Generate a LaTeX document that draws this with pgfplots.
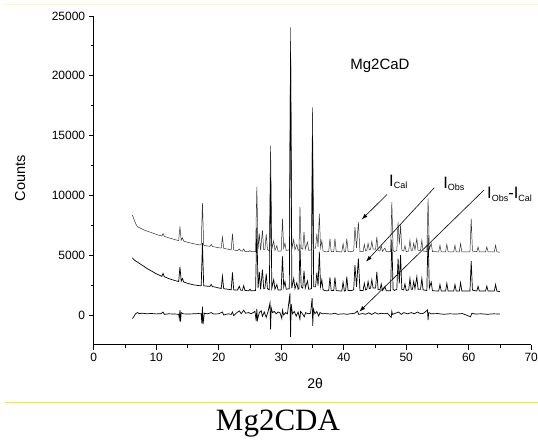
\documentclass[border=0pt]{standalone}
\usepackage{fontspec}
\setmainfont{Liberation Sans}
\newfontfamily\seriffont{Liberation Serif}
\usepackage{pgfplots}
\pgfplotsset{compat=1.18}
\usetikzlibrary{arrows.meta}
\begin{document}
\begin{tikzpicture}[x=1pt,y=1pt]
\path[use as bounding box] (0,0) rectangle (538,439);
\draw[yellow!30, line width=0.8pt] (5,434.7) -- (538,434.7);
\draw[yellow, line width=1pt] (5,36.7) -- (538,36.7);
\node[anchor=base, font=\seriffont\fontsize{31}{34}\selectfont] at (278,8.3) {Mg2CDA};
\begin{axis}[
  at={(93.7pt,94.1pt)}, anchor=south west,
  scale only axis, width=437.5pt, height=328.9pt,
  xmin=0, xmax=70, ymin=-2500, ymax=25000,
  axis lines=left, axis line style={-, line width=1pt},
  clip=false,
  xtick={0,10,...,70}, ytick={0,5000,...,25000},
  minor x tick num=1, minor y tick num=1,
  tick align=outside, major tick length=5pt, minor tick length=3pt,
  tick style={line width=0.8pt, black},
  scaled y ticks=false,
  /pgf/number format/1000 sep={},
  /pgf/number format/assume math mode=true,
  tick label style={font=\fontsize{12}{14}\selectfont},
  xlabel={2θ}, ylabel={Counts},
  xlabel style={font=\fontsize{14}{16}\selectfont, at={(axis description cs:0.506,-0.116)}, anchor=center},
  ylabel style={font=\fontsize{14.5}{16}\selectfont, at={(axis description cs:-0.168,0.507)}, anchor=center},
]
% I_Cal (offset)
\addplot[black!80, line width=0.5pt] coordinates {
(6.2,8350) (6.4,8050) (6.6,7800) (6.8,7550) (7.0,7380) (7.5,7250) (8,7120) (8.5,7020) (9,6930) (9.5,6840) (10,6740) (10.5,6660) (10.9,6600) (11.1,6800) (11.3,6580) (12,6450) (12.5,6380) (13,6300) (13.6,6220) (13.8,7400) (14.0,6250) (14.2,6450) (14.4,6180) (15,6080) (15.5,6020) (16,5960) (16.5,5900) (17.0,5860) (17.2,5850) (17.4,9350) (17.6,5830) (18,5790) (18.6,5740) (18.8,5900) (19.0,5720) (19.5,5680) (20.0,5620) (20.4,5600) (20.6,6520) (20.8,5580) (21.5,5500) (22.0,5450) (22.2,6800) (22.4,5440) (23.0,5380) (23.3,5520) (23.5,5370) (23.8,5340) (24.0,5520) (24.2,5320) (24.8,5300) (25.0,5380) (25.2,5290) (25.6,5290) (25.9,5300) (26.1,10700) (26.3,5500) (26.5,6800) (26.7,5400) (27.0,7080) (27.2,5450) (27.4,5500) (27.6,6750) (27.8,5500) (28.1,5350) (28.3,14170) (28.5,5500) (28.8,6200) (29.0,5400) (29.3,5800) (29.5,5330) (30.0,5350) (30.2,8050) (30.4,5600) (30.6,6000) (30.8,5400) (31.3,5450) (31.5,24050) (31.7,5500) (32.0,6300) (32.2,5450) (32.5,5900) (32.7,5400) (32.85,5450) (33.0,9030) (33.2,5600) (33.45,5500) (33.65,6940) (33.85,5500) (34.2,6100) (34.4,5400) (34.85,5450) (35.0,17360) (35.2,5600) (35.5,5600) (35.7,6800) (35.9,5700) (36.1,8470) (36.3,5600) (36.5,6200) (36.7,5350) (37.2,5280) (37.6,5300) (37.8,6390) (38.0,5300) (38.4,5300) (38.6,6390) (38.8,5300) (39.7,5280) (39.9,5970) (40.1,5280) (40.3,5300) (40.5,6390) (40.7,5300) (41.2,5300) (41.6,5350) (41.8,7360) (42.05,5600) (42.35,7775) (42.6,5300) (43.1,5300) (43.3,5900) (43.5,5350) (43.7,5400) (43.9,6000) (44.1,5450) (44.3,5500) (44.5,6150) (44.7,5500) (45.1,5500) (45.3,6525) (45.5,5400) (45.8,5350) (46.0,5800) (46.2,5320) (46.6,5600) (46.8,5300) (47.5,5300) (47.7,9440) (47.9,5400) (48.1,5300) (48.5,5400) (48.7,7775) (48.9,5900) (49.1,7500) (49.3,5400) (49.6,5350) (49.8,5800) (50.0,5300) (50.4,5350) (50.6,6250) (50.8,5400) (51.0,5400) (51.2,6000) (51.4,5450) (51.7,6390) (51.9,5400) (52.3,5400) (52.5,6250) (52.7,5350) (53.3,5300) (53.5,9720) (53.7,5500) (54.0,6000) (54.2,5300) (55.2,5280) (55.4,5830) (55.6,5280) (56.3,5280) (56.5,5900) (56.7,5280) (57.6,5280) (57.8,5830) (58.0,5280) (58.5,5280) (58.7,5970) (58.9,5280) (60.2,5280) (60.4,8050) (60.6,5350) (61.3,5280) (61.5,5690) (61.7,5280) (62.7,5280) (62.9,5690) (63.1,5280) (64.1,5280) (64.3,5830) (64.5,5280) (65.0,5250)
};
% I_Obs
\addplot[black, line width=0.7pt] coordinates {
(6.2,4780) (6.4,4650) (6.6,4560) (6.8,4480) (7.0,4420) (7.5,4250) (8,4080) (8.5,3900) (9,3750) (9.5,3600) (10,3450) (10.5,3330) (10.9,3230) (11.1,3480) (11.3,3200) (12,3050) (12.5,2960) (13,2880) (13.6,2800) (13.8,4030) (14.0,2820) (14.2,3050) (14.4,2760) (15,2650) (15.5,2580) (16,2520) (16.5,2480) (17.0,2450) (17.2,2440) (17.4,6000) (17.6,2440) (18,2420) (18.6,2390) (18.8,2550) (19.0,2370) (19.5,2330) (20.0,2260) (20.4,2220) (20.6,3250) (20.8,2200) (21.5,2150) (22.0,2110) (22.2,3560) (22.4,2100) (23.0,2080) (23.3,2400) (23.5,2080) (23.8,2060) (24.0,2450) (24.2,2050) (24.8,2030) (25.0,2150) (25.2,2020) (25.6,2020) (25.9,2050) (26.1,7300) (26.3,2250) (26.5,3600) (26.7,2150) (27.0,3800) (27.2,2200) (27.4,2250) (27.6,3450) (27.8,2200) (28.1,2100) (28.3,11500) (28.5,2250) (28.8,2950) (29.0,2150) (29.3,2550) (29.5,2080) (30.0,2100) (30.2,4900) (30.4,2350) (30.6,2800) (30.8,2150) (31.3,2200) (31.5,22000) (31.7,2250) (32.0,3050) (32.2,2200) (32.5,2700) (32.7,2150) (32.85,2200) (33.0,5900) (33.2,2350) (33.45,2250) (33.65,3700) (33.85,2250) (34.2,2850) (34.4,2150) (34.85,2200) (35.0,15000) (35.2,2350) (35.5,2350) (35.7,3550) (35.9,2450) (36.1,5300) (36.3,2350) (36.5,2950) (36.7,2100) (37.2,2020) (37.6,2040) (37.8,3150) (38.0,2040) (38.4,2040) (38.6,3150) (38.8,2040) (39.7,2000) (39.9,2750) (40.1,2000) (40.3,2040) (40.5,3200) (40.7,2040) (41.2,2040) (41.6,2100) (41.8,4170) (42.05,2350) (42.35,4720) (42.6,2050) (43.1,2050) (43.3,2650) (43.5,2100) (43.7,2150) (43.9,2800) (44.1,2200) (44.3,2250) (44.5,2950) (44.7,2250) (45.1,2250) (45.3,3610) (45.5,2150) (45.8,2100) (46.0,2600) (46.2,2050) (46.6,2350) (46.8,2030) (47.5,2030) (47.7,6300) (47.9,2150) (48.1,2050) (48.5,2150) (48.7,4720) (48.9,2650) (49.1,5000) (49.3,2150) (49.6,2100) (49.8,2600) (50.0,2050) (50.4,2100) (50.6,3050) (50.8,2150) (51.0,2150) (51.2,2800) (51.4,2200) (51.7,3200) (51.9,2150) (52.3,2150) (52.5,3050) (52.7,2100) (53.3,2050) (53.5,6700) (53.7,2250) (54.0,2750) (54.2,2030) (55.2,2000) (55.4,2550) (55.6,2000) (56.3,2000) (56.5,2650) (56.7,2000) (57.6,2000) (57.8,2550) (58.0,2000) (58.5,2000) (58.7,2700) (58.9,2000) (60.2,2000) (60.4,4500) (60.6,2080) (61.3,2000) (61.5,2400) (61.7,2000) (62.7,2000) (62.9,2420) (63.1,2000) (64.1,2000) (64.3,2550) (64.5,2000) (65.0,1950)
};
% I_Obs - I_Cal
\addplot[black, line width=0.7pt] coordinates {
(6.2,-300) (6.4,-150) (6.7,100) (7.0,200) (7.3,120) (7.8,150) (8.5,100) (9.2,130) (10,90) (10.8,120) (11.1,250) (11.3,50) (12,100) (13,80) (13.6,60) (13.7,-300) (13.8,400) (13.9,-550) (14.0,200) (14.3,100) (15,80) (16,100) (16.8,120) (17.2,100) (17.3,-700) (17.4,700) (17.5,-750) (17.7,150) (18.2,100) (18.8,200) (19.2,80) (20,100) (20.6,250) (20.8,0) (21.5,100) (22.0,50) (22.2,250) (22.4,-50) (22.8,150) (23.3,350) (23.6,100) (24.0,400) (24.3,150) (24.8,200) (25.2,100) (25.8,300) (26.0,-500) (26.1,500) (26.2,-400) (26.5,200) (26.8,350) (27.0,-100) (27.3,250) (27.6,-200) (27.9,300) (28.2,1000) (28.3,-1200) (28.4,600) (28.6,200) (28.9,300) (29.2,100) (29.5,250) (29.8,200) (30.1,-300) (30.2,400) (30.4,0) (30.7,200) (31.0,100) (31.4,1800) (31.5,-1850) (31.6,900) (31.8,100) (32.1,300) (32.4,-100) (32.7,250) (33.0,-350) (33.1,300) (33.4,100) (33.7,-150) (33.9,200) (34.3,100) (34.7,150) (34.95,1400) (35.05,-900) (35.15,500) (35.4,100) (35.7,300) (36.0,-100) (36.2,200) (36.6,100) (37,120) (38,80) (38.6,150) (39,60) (40,100) (40.5,60) (41,100) (41.8,150) (42.2,330) (42.4,50) (43,120) (43.5,60) (44,180) (44.5,50) (45,200) (45.5,80) (46,150) (46.5,100) (47,150) (47.6,-200) (47.7,300) (47.8,50) (48.3,150) (48.8,250) (49.2,50) (49.6,200) (50.2,100) (50.8,200) (51.3,100) (51.8,250) (52.3,100) (52.8,150) (53.4,420) (53.5,-420) (53.6,200) (54,100) (55,120) (56,60) (57,100) (58,80) (59,120) (60.3,-150) (60.5,150) (61,80) (62,100) (63,60) (64,100) (65,80)
};
\node[anchor=base, font=\fontsize{15}{17}\selectfont] at (axis cs:45.8,20500) {Mg2CaD};
\draw[-{Latex[length=6pt,width=4pt]}, line width=0.6pt] (axis cs:46.93,10074) -- (axis cs:42.88,7984);
\draw[-{Latex[length=6pt,width=4pt]}, line width=0.6pt] (axis cs:54.5,10642) -- (axis cs:43.57,4456);
\draw[-{Latex[length=6pt,width=4pt]}, line width=0.6pt] (axis cs:62.45,10450) -- (axis cs:42.5,276);
\node[anchor=base west, inner sep=0pt] at (axis cs:47.25,10784) {\fontsize{16.5}{18}\selectfont I\raisebox{-2.5pt}{\fontsize{9}{10}\selectfont Cal}};
\node[anchor=base west, inner sep=0pt] at (axis cs:55.9,10617) {\fontsize{16.5}{18}\selectfont I\raisebox{-2.5pt}{\fontsize{9}{10}\selectfont Obs}};
\node[anchor=base west, inner sep=0pt] at (axis cs:62.93,9739) {\fontsize{16.5}{18}\selectfont I\raisebox{-2.5pt}{\fontsize{9}{10}\selectfont Obs}-I\raisebox{-2.5pt}{\fontsize{9}{10}\selectfont Cal}};
\end{axis}
\end{tikzpicture}
\end{document}
